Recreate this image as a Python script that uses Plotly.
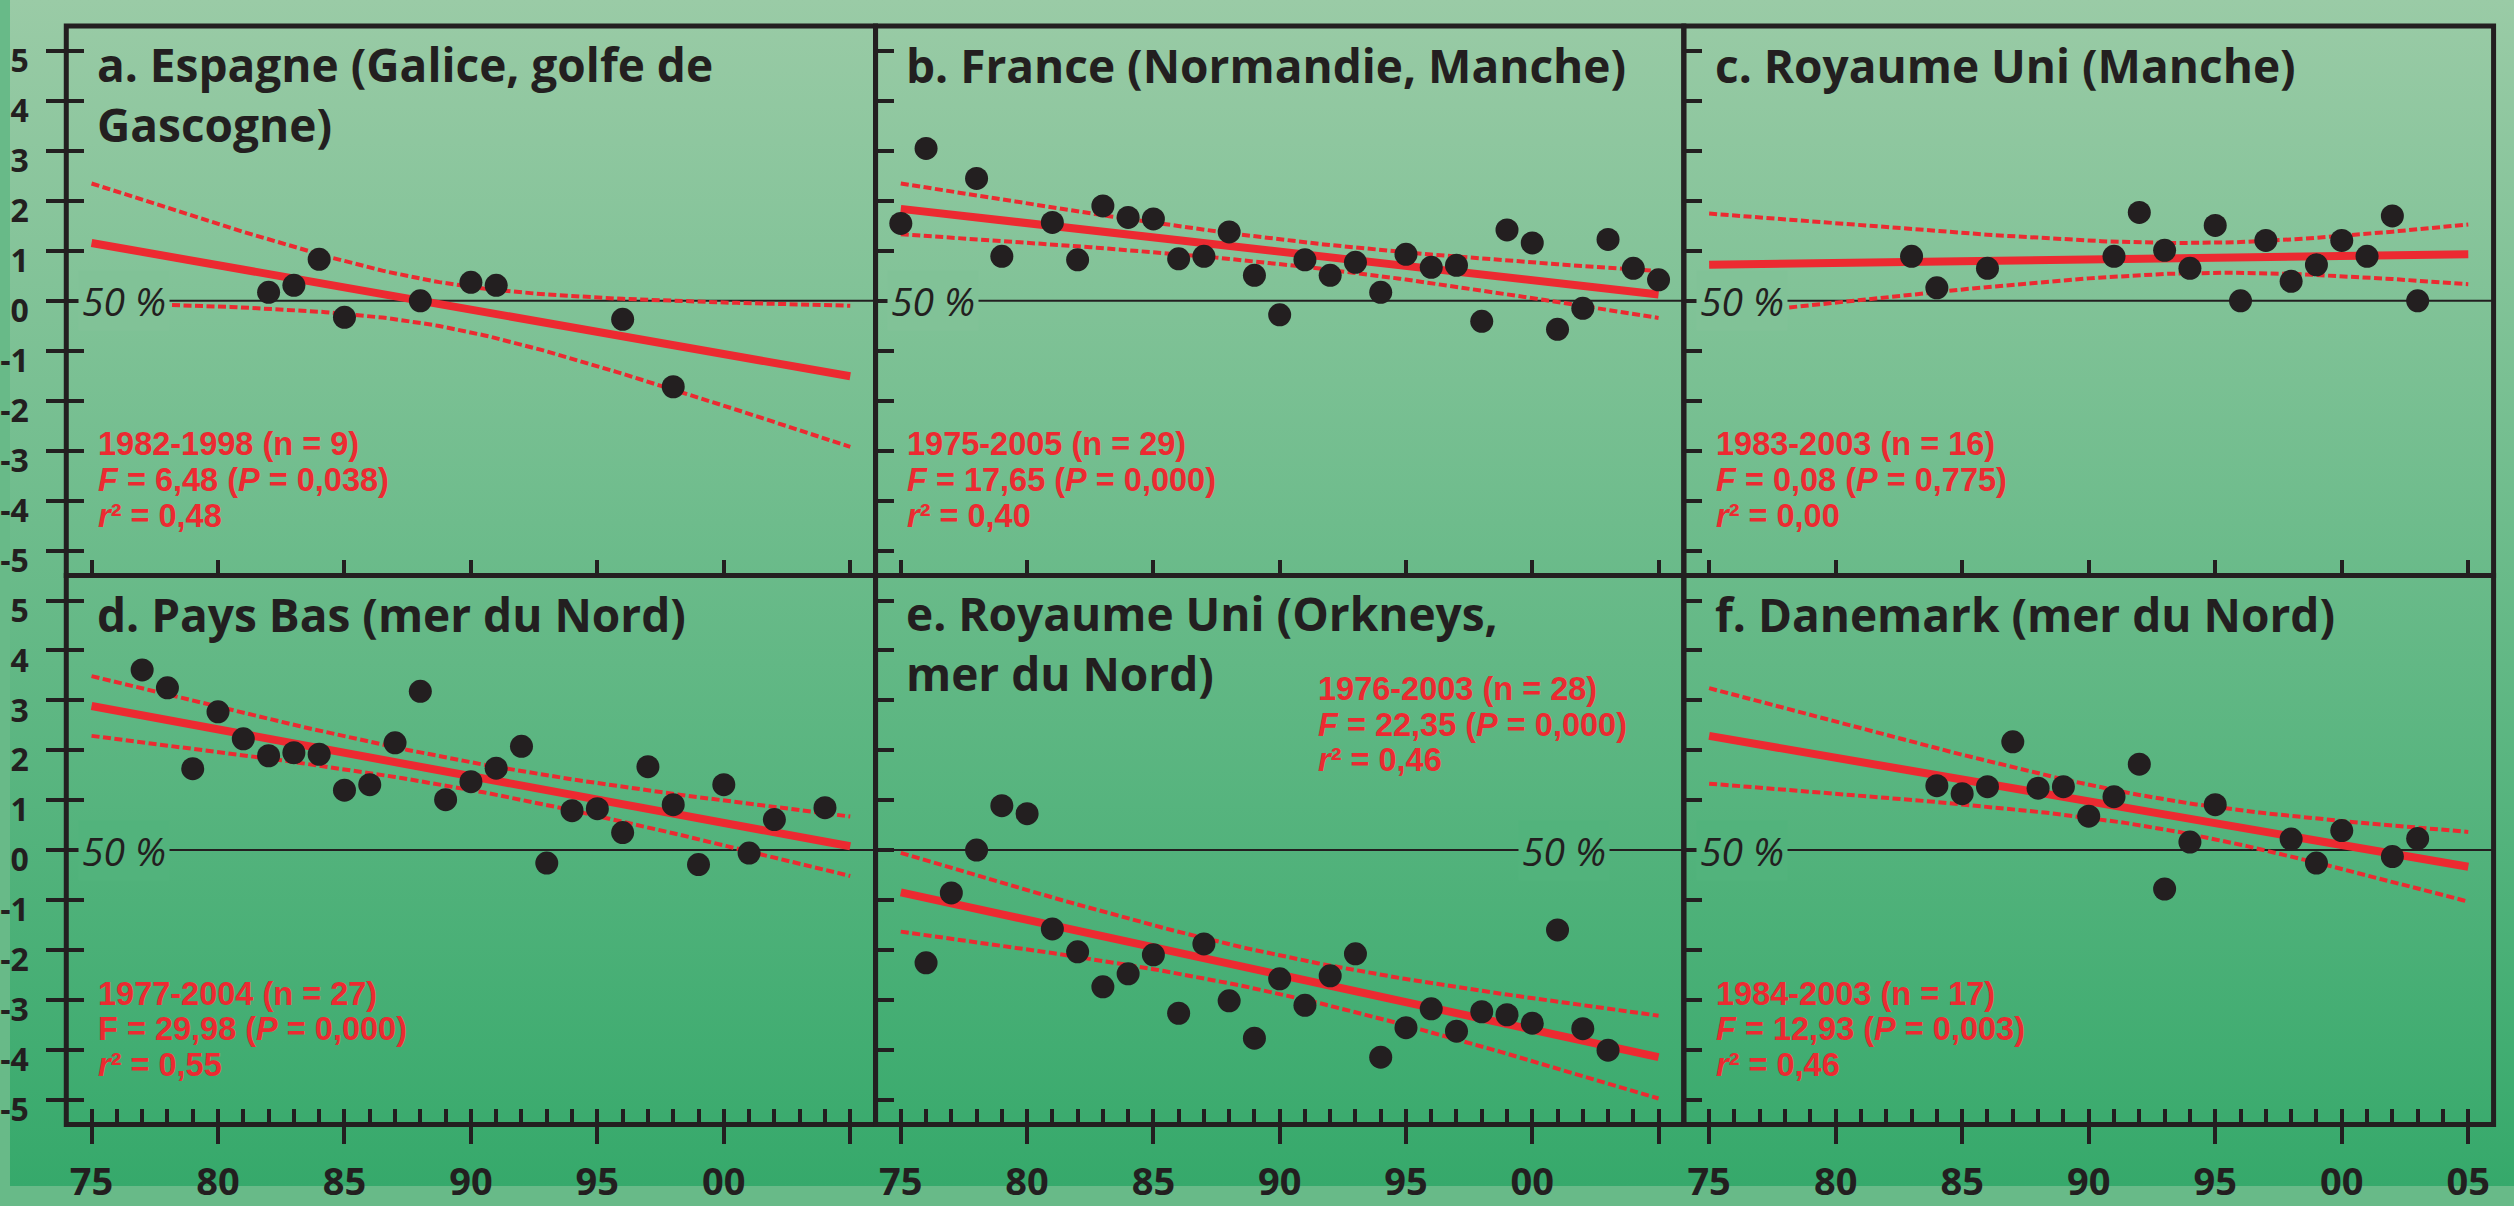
import base64
import numpy as np
import plotly.graph_objects as go

W, H = 2514, 1206

# ---- observations: year and standardised anomaly, one pair of lists per site ----
years_a = [1982, 1983, 1984, 1985, 1988, 1990, 1991, 1996, 1998]
values_a = [0.17, 0.31, 0.83, -0.33, 0.00, 0.37, 0.31, -0.37, -1.72]

years_b = [1975, 1976, 1978, 1979, 1981, 1982, 1983, 1984, 1985, 1986, 1987, 1988, 1989, 1990,
           1991, 1992, 1993, 1994, 1995, 1996, 1997, 1998, 1999, 2000, 2001, 2002, 2003, 2004, 2005]
values_b = [1.55, 3.05, 2.45, 0.89, 1.57, 0.82, 1.90, 1.67, 1.64, 0.84, 0.89, 1.38, 0.51, -0.28,
            0.82, 0.51, 0.77, 0.17, 0.93, 0.67, 0.71, -0.41, 1.42, 1.16, -0.57, -0.15, 1.23, 0.65, 0.42]

years_c = [1983, 1984, 1986, 1991, 1992, 1993, 1994, 1995, 1996, 1997, 1998, 1999, 2000, 2001, 2002, 2003]
values_c = [0.89, 0.26, 0.65, 0.89, 1.77, 1.01, 0.65, 1.51, 0.00, 1.21, 0.39, 0.72, 1.21, 0.89, 1.70, 0.00]

years_d = [1977, 1978, 1979, 1980, 1981, 1982, 1983, 1984, 1985, 1986, 1987, 1988, 1989, 1990,
           1991, 1992, 1993, 1994, 1995, 1996, 1997, 1998, 1999, 2000, 2001, 2002, 2004]
values_d = [3.61, 3.25, 1.63, 2.77, 2.23, 1.89, 1.95, 1.92, 1.20, 1.31, 2.15, 3.18, 1.01, 1.37,
            1.64, 2.08, -0.26, 0.79, 0.83, 0.35, 1.67, 0.91, -0.29, 1.31, -0.06, 0.61, 0.85]

years_e = [1976, 1977, 1978, 1979, 1980, 1981, 1982, 1983, 1984, 1985, 1986, 1987, 1988, 1989,
           1990, 1991, 1992, 1993, 1994, 1995, 1996, 1997, 1998, 1999, 2000, 2001, 2002, 2003]
values_e = [-2.26, -0.86, 0.00, 0.89, 0.73, -1.58, -2.04, -2.74, -2.48, -2.10, -3.27, -1.88, -3.02, -3.77,
            -2.58, -3.11, -2.52, -2.08, -4.15, -3.56, -3.18, -3.63, -3.24, -3.30, -3.47, -1.60, -3.58, -4.01]

years_f = [1984, 1985, 1986, 1987, 1988, 1989, 1990, 1991, 1992, 1993, 1994, 1995, 1998, 1999, 2000, 2002, 2003]
values_f = [1.29, 1.13, 1.27, 2.17, 1.24, 1.27, 0.68, 1.07, 1.72, -0.78, 0.16, 0.91, 0.22, -0.26, 0.39, -0.13, 0.23]

# ---- panel titles and regression statistics ----
titles = [
    ["a. Espagne (Galice, golfe de", "Gascogne)"],
    ["b. France (Normandie, Manche)"],
    ["c. Royaume Uni (Manche)"],
    ["d. Pays Bas (mer du Nord)"],
    ["e. Royaume Uni (Orkneys,", "mer du Nord)"],
    ["f. Danemark (mer du Nord)"],
]
periods = ["1982-1998", "1975-2005", "1983-2003", "1977-2004", "1976-2003", "1984-2003"]
n_obs = [9, 29, 16, 27, 28, 17]
f_stat = ["6,48", "17,65", "0,08", "29,98", "22,35", "12,93"]
p_val = ["0,038", "0,000", "0,775", "0,000", "0,000", "0,003"]
r_squared = ["0,48", "0,40", "0,00", "0,55", "0,46", "0,46"]
f_italic = [True, True, True, False, True, True]

# axis scales
x_range = [1974, 2006]
y_range = [-5.5, 5.5]
major_years = [1975, 1980, 1985, 1990, 1995, 2000, 2005]
major_labels = ["75", "80", "85", "90", "95", "00", "05"]
minor_years = list(range(1975, 2006))
y_ticks = [5, 4, 3, 2, 1, 0, -1, -2, -3, -4, -5]
y_labels = ["5", "4", "3", "2", "1", "0", "-1", "-2", "-3", "-4", "-5"]

# two-sided 95 % Student t quantiles by degrees of freedom
t975 = {7: 2.365, 14: 2.145, 15: 2.131, 25: 2.060, 26: 2.056, 27: 2.052}

series = [(years_a, values_a), (years_b, values_b), (years_c, values_c),
          (years_d, values_d), (years_e, values_e), (years_f, values_f)]

# ---- styling ----
DARK = "#231f20"
RED = "#ec2a31"
FONT = "Open Sans, Liberation Sans, Arial, sans-serif"
STAT_FONT = "Liberation Sans, Arial, sans-serif"
TOP_RGB = (154, 203, 166)
BOT_RGB = (54, 169, 107)


def bg_at(py):
    t = py / H
    c = [round(a + (b - a) * t) for a, b in zip(TOP_RGB, BOT_RGB)]
    return "rgb(%d,%d,%d)" % tuple(c)


# panel frames in pixels
col_px = [(56.5, 869.0), (869.0, 1680.5), (1680.5, 2493.5)]
row_px = [(26.5, 585.3), (585.3, 1143.5)]

fig = go.Figure()
layout = dict(
    width=W, height=H, autosize=False,
    margin=dict(l=0, r=0, t=0, b=0),
    paper_bgcolor=bg_at(H / 2), plot_bgcolor="rgba(0,0,0,0)",
    showlegend=False,
)

# vertical gradient backdrop
svg = ('<svg xmlns="http://www.w3.org/2000/svg" width="%d" height="%d" preserveAspectRatio="none">'
       '<defs><linearGradient id="g" x1="0" y1="0" x2="0" y2="1">'
       '<stop offset="0" stop-color="rgb(%d,%d,%d)"/><stop offset="1" stop-color="rgb(%d,%d,%d)"/>'
       '</linearGradient></defs><rect width="100%%" height="100%%" fill="url(#g)"/></svg>'
       % ((W, H) + TOP_RGB + BOT_RGB))
uri = "data:image/svg+xml;base64," + base64.b64encode(svg.encode()).decode()
layout["images"] = [dict(source=uri, xref="paper", yref="paper", x=0, y=1, sizex=1, sizey=1,
                         xanchor="left", yanchor="top", sizing="stretch", layer="below")]

shapes = []
annotations = []
overlay_id = 7

for i, (yrs, vals) in enumerate(series):
    r, c = divmod(i, 3)
    k = i + 1
    xa, ya = ("x" if k == 1 else "x%d" % k), ("y" if k == 1 else "y%d" % k)
    xkey, ykey = ("xaxis" if k == 1 else "xaxis%d" % k), ("yaxis" if k == 1 else "yaxis%d" % k)
    L, R = col_px[c]
    T, B = row_px[r]
    xdom = [L / W, R / W]
    ydom = [1 - B / H, 1 - T / H]
    pw = R - L

    # least-squares trend with its 95 % confidence band
    x = np.array(yrs, float)
    y = np.array(vals, float)
    n = len(x)
    slope, icpt = np.polyfit(x, y, 1)
    xm = x.mean()
    sxx = ((x - xm) ** 2).sum()
    s = np.sqrt(((y - (icpt + slope * x)) ** 2).sum() / (n - 2))
    xg = np.linspace(1975, 2005, 121)
    fit = icpt + slope * xg
    half = t975[n - 2] * s * np.sqrt(1.0 / n + (xg - xm) ** 2 / sxx)

    for band in (fit + half, fit - half):
        fig.add_trace(go.Scatter(x=xg, y=band, mode="lines", xaxis=xa, yaxis=ya,
                                 line=dict(color=RED, width=4, dash="8px,3.5px"), hoverinfo="skip"))
    fig.add_trace(go.Scatter(x=[1975, 2005], y=[icpt + slope * 1975, icpt + slope * 2005],
                             mode="lines", xaxis=xa, yaxis=ya,
                             line=dict(color=RED, width=8), hoverinfo="skip"))
    fig.add_trace(go.Scatter(x=yrs, y=vals, mode="markers", xaxis=xa, yaxis=ya,
                             marker=dict(size=23, color=DARK, line=dict(width=0))))

    # axes
    common = dict(showgrid=False, zeroline=False, showline=False, fixedrange=True,
                  tickcolor=DARK, tickwidth=4)
    xcfg = dict(common, domain=xdom, range=x_range, anchor=ya, tickmode="array")
    ycfg = dict(common, domain=ydom, range=y_range, anchor=xa, tickmode="array", tickvals=y_ticks)

    if r == 0:
        xcfg.update(tickvals=major_years, ticks="inside", ticklen=16, showticklabels=False)
    else:
        labels = major_labels if c == 2 else major_labels[:-1] + [""]
        xcfg.update(tickvals=major_years, ticktext=labels, ticks="outside", ticklen=18,
                    showticklabels=True, ticklabelstandoff=6,
                    tickfont=dict(family=FONT, size=38, color=DARK, weight="bold"))
        # yearly inward ticks
        ov = "x%d" % overlay_id
        layout["xaxis%d" % overlay_id] = dict(common, overlaying=xa, anchor=ya, range=x_range,
                                              tickmode="array", tickvals=minor_years,
                                              ticks="inside", ticklen=16, showticklabels=False)
        fig.add_trace(go.Scatter(x=[], y=[], xaxis=ov, yaxis=ya, mode="markers", hoverinfo="skip"))
        overlay_id += 1

    if c == 0:
        ycfg.update(ticktext=y_labels, ticks="outside", ticklen=19, showticklabels=True,
                    ticklabelstandoff=11, ticklabelshift=10,
                    tickfont=dict(family=FONT, size=32, color=DARK, weight="bold"))
        # inward half of the crossing ticks
        ov = "y%d" % overlay_id
        layout["yaxis%d" % overlay_id] = dict(common, overlaying=ya, anchor=xa, range=y_range,
                                              side="left", tickmode="array", tickvals=y_ticks,
                                              ticks="inside", ticklen=17.5, showticklabels=False)
        fig.add_trace(go.Scatter(x=[], y=[], xaxis=xa, yaxis=ov, mode="markers", hoverinfo="skip"))
        overlay_id += 1
    else:
        ycfg.update(ticks="inside", ticklen=18, showticklabels=False)

    layout[xkey] = xcfg
    layout[ykey] = ycfg

    # frame and the 50 % reference line
    shapes.append(dict(type="rect", xref=xa + " domain", yref=ya + " domain", x0=0, x1=1, y0=0, y1=1,
                       line=dict(color=DARK, width=5), layer="above"))
    shapes.append(dict(type="line", xref=xa + " domain", yref=ya, x0=0, x1=1, y0=0, y1=0,
                       line=dict(color=DARK, width=2), layer="below"))

    zero_py = T + (y_range[1] / (y_range[1] - y_range[0])) * (B - T)
    lab_x = (645 if i == 4 else 12) / pw
    annotations.append(dict(xref=xa + " domain", yref=ya, x=lab_x, y=0, xanchor="left", yanchor="middle",
                            text="50 %", showarrow=False, bgcolor=bg_at(zero_py), borderpad=3,
                            font=dict(family=FONT, size=39, color=DARK, style="italic")))

    # title (one or two lines)
    nl = len(titles[i])
    py = T + 39.4 + 29.5 * (nl - 1)
    annotations.append(dict(xref="paper", yref="paper", x=(L + 29) / W, y=1 - py / H,
                            xanchor="left", yanchor="middle", align="left",
                            text="<br>".join(titles[i]), showarrow=False,
                            font=dict(family=FONT, size=46, color=DARK, weight="bold")))

    # statistics block
    f_txt = "<i>F</i>" if f_italic[i] else "F"
    stat_lines = ["%s (n = %d)" % (periods[i], n_obs[i]),
                  "%s = %s (<i>P</i> = %s)" % (f_txt, f_stat[i], p_val[i]),
                  "<i>r</i>² = %s" % r_squared[i]]
    if i == 4:
        sx, sy = L + 443, T + 115
    else:
        sx, sy = L + 31, T + 425
    for j, line in enumerate(stat_lines):
        py = sy + 36.5 * j
        annotations.append(dict(xref="paper", yref="paper", x=sx / W, y=1 - py / H,
                                xanchor="left", yanchor="middle", text=line, showarrow=False,
                                borderpad=0,
                                font=dict(family=STAT_FONT, size=32.5, color=RED, weight="bold")))

layout["shapes"] = shapes
layout["annotations"] = annotations
fig.update_layout(**layout)
fig.write_html("out.html")
